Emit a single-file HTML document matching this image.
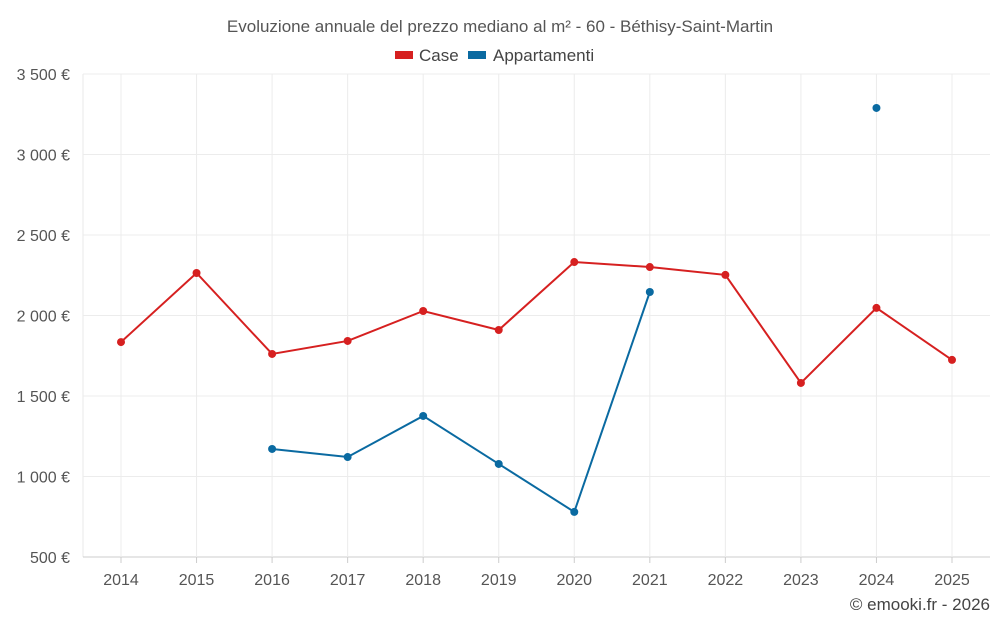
<!DOCTYPE html>
<html><head><meta charset="utf-8">
<style>
body{margin:0;background:#fff;font-family:"Liberation Sans",sans-serif;}
svg{display:block}
</style></head>
<body>
<svg id="chart" width="1000" height="625">
<text x="500" y="32" text-anchor="middle" font-size="17" fill="#555">Evoluzione annuale del prezzo mediano al m² - 60 - Béthisy-Saint-Martin</text>
<g><rect x="395" y="51" width="18" height="8" fill="#d62020"/><text x="419" y="61" font-size="17" fill="#444">Case</text></g>
<g><rect x="468" y="51" width="18" height="8" fill="#0a6aa1"/><text x="493" y="61" font-size="17" fill="#444">Appartamenti</text></g>
<g id="grid"></g><g id="axes"></g><g id="series"></g>
<text x="990" y="610" text-anchor="end" font-size="17" fill="#444">© emooki.fr - 2026</text>
</svg>
<script>
const years=[2014,2015,2016,2017,2018,2019,2020,2021,2022,2023,2024,2025];
const caseValues=[1835,2264,1761,1842,2028,1910,2332,2301,2252,1581,2047,1724];
const appValues=[null,null,1171,1121,1376,1078,780,2146,null,null,3289,null];
const yTicks=[500,1000,1500,2000,2500,3000,3500];
const yTickLabels=["500 €","1 000 €","1 500 €","2 000 €","2 500 €","3 000 €","3 500 €"];

const L=83,R=990,T=74,B=557,NS='http://www.w3.org/2000/svg';
const x=i=>121+i*(952-121)/(years.length-1);
const y=v=>B-(v-500)/3000*(B-T);
function mk(tag,attrs,parent){const e=document.createElementNS(NS,tag);for(const k in attrs)e.setAttribute(k,attrs[k]);parent.appendChild(e);return e;}
const grid=document.getElementById('grid'),axes=document.getElementById('axes'),ser=document.getElementById('series');
mk('line',{x1:L,x2:L,y1:T,y2:B,stroke:'#e8e8e8'},grid);
yTicks.forEach((v,i)=>{
  const gl=mk('line',{x1:L,x2:R,y1:y(v),y2:y(v),stroke:i===0?'#ccc':'#ececec'},grid);
  
  
  const t=mk('text',{x:70,y:y(v)+6,'text-anchor':'end','font-size':16,fill:'#555'},axes);
  t.textContent=yTickLabels[i];
  
  
});
years.forEach((yr,i)=>{
  const gl=mk('line',{x1:x(i),x2:x(i),y1:T,y2:B,stroke:'#ececec'},grid);
  
  
  mk('line',{x1:x(i),x2:x(i),y1:B,y2:B+6,stroke:'#ccc'},axes);
  const t=mk('text',{x:x(i),y:585,'text-anchor':'middle','font-size':16,fill:'#555'},axes);
  t.textContent=yr;
  
  
});
function draw(vals,color,name){
  let segs=[],cur=[];
  vals.forEach((v,i)=>{if(v==null){if(cur.length)segs.push(cur);cur=[];}else cur.push([x(i),y(v)]);});
  if(cur.length)segs.push(cur);
  segs.forEach(s=>{if(s.length>1){
    const p=mk('polyline',{points:s.map(q=>q.join(',')).join(' '),fill:'none',stroke:color,'stroke-width':2},ser);
    
    
  }});
  vals.forEach((v,i)=>{if(v==null)return;
    const c=mk('circle',{cx:x(i),cy:y(v),r:4,fill:color},ser);
    
    
  });
}
draw(caseValues,'#d62020','case');
draw(appValues,'#0a6aa1','appartamenti');
</script>
</body></html>
